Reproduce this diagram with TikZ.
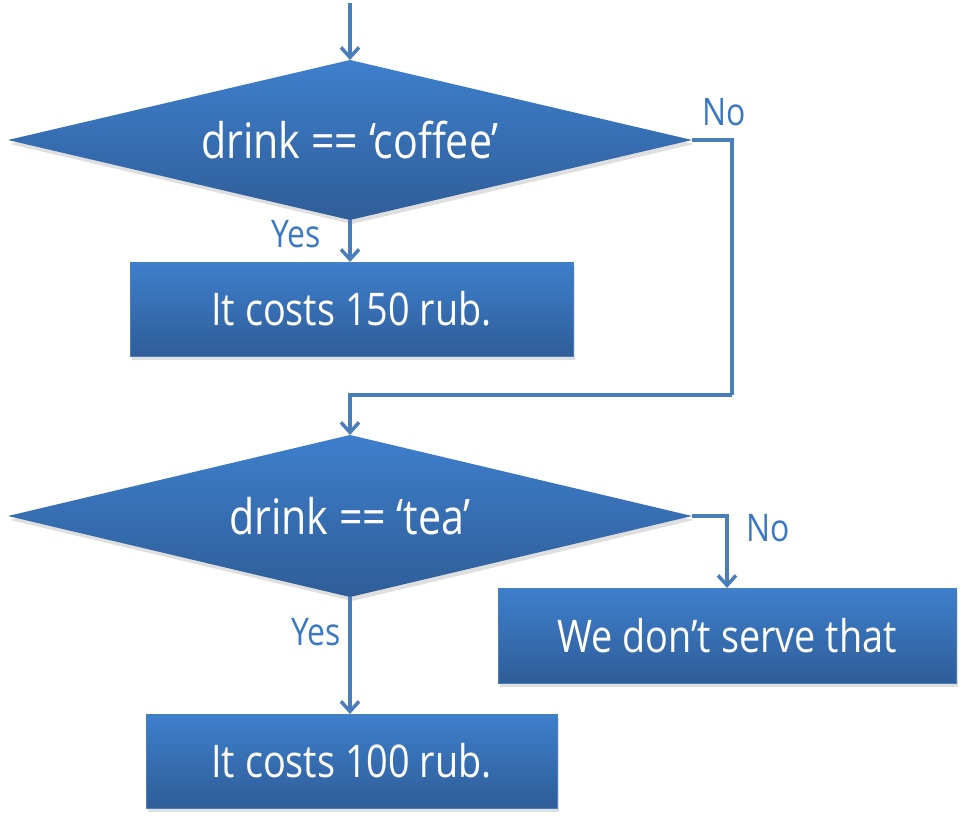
\documentclass[tikz,border=0pt]{standalone}
\usepackage{fontspec}
\setmainfont{Open Sans}[FakeStretch=0.84]
\usetikzlibrary{shapes.geometric,arrows.meta,shadows}
\definecolor{fillTop}{HTML}{3E7FCC}
\definecolor{fillBot}{HTML}{2F5D98}
\definecolor{lineBlue}{HTML}{4A7EBB}
\definecolor{labelBlue}{HTML}{3A78C3}

\tikzset{main/.style={top color=fillTop, bottom color=fillBot, text=white, font=\fontsize{45}{48}\selectfont, inner sep=0pt, outer sep=0pt, drop shadow={shadow xshift=2pt, shadow yshift=-4pt, opacity=0.25}}}
\tikzset{dec/.style={main, diamond, aspect=4.3, minimum width=684pt, minimum height=160pt, font=\fontsize{49}{52}\selectfont}}
\tikzset{box/.style={main, rectangle, draw=lineBlue, line width=1pt, minimum height=94pt}}
\tikzset{lbl/.style={text=labelBlue, font=\fontsize{38}{40}\selectfont}}

\begin{document}
\begin{tikzpicture}[x=1pt,y=-1pt,arr/.style={draw=lineBlue, line width=3.5pt, -{Straight Barb[length=10pt,width=18pt]}},line/.style={draw=lineBlue, line width=3.5pt}]
    \useasboundingbox (0,0) rectangle (970,832);

    \node[dec] (coffee) at (350,140) {drink == ‘coffee’};
    \node[box, minimum width=443pt] (cost150) at (351.5,309) {It costs 150 rub.};
    \node[dec, minimum height=162pt] (tea) at (350,516) {drink == ‘tea’};
    \node[box, minimum width=411pt] (cost100) at (351.5,761) {It costs 100 rub.};
    \node[box, minimum width=458pt, minimum height=95pt] (noserve) at (727,635.5) {We don’t serve that};

    \node[lbl] (no1) at (724,112) {No};
    \node[lbl] (yes1) at (296,234) {Yes};
    \node[lbl] (no2) at (768,528) {No};
    \node[lbl] (yes2) at (316,632) {Yes};

    \coordinate (start) at (350,3);
    \coordinate (bend) at (732,395);

    \draw[arr] (start) -- (coffee.north);
    \draw[arr] (coffee.south) -- (coffee.south |- cost150.north);
    \draw[line] (coffee.east) -| (bend);
    \draw[arr] (bend) -| (tea.north);
    \draw[arr] (tea.east) -| (noserve.north);
    \draw[arr] (tea.south) -- (tea.south |- cost100.north);
\end{tikzpicture}
\end{document}
